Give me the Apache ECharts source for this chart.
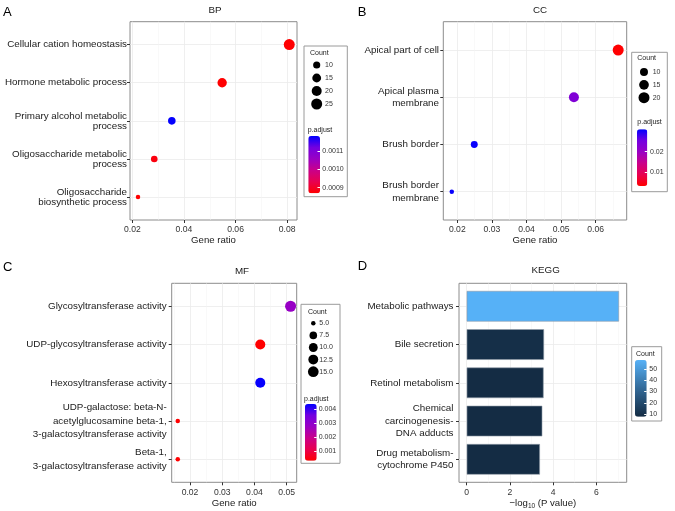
<!DOCTYPE html>
<html>
<head>
<meta charset="utf-8">
<script src="https://cdn.jsdelivr.net/npm/echarts@6/dist/echarts.min.js"></script>
<style>
  html, body { margin: 0; padding: 0; background: #fff; }
  #chart { width: 675px; height: 511px; }
</style>
</head>
<body>
<div id="chart"></div>
<script>
// enrichment figure: BP / CC / MF dot plots + KEGG bar plot
const FONT = '"Liberation Sans", Arial, Helvetica, sans-serif';
const RB = ['#FF0000', '#E8004F', '#CA0089', '#9A00C3', '#7300E0', '#0000FF']; // red -> blue (Lab-ish)
const BLUES = ['#132B43', '#336A98', '#56B1F7'];
const BORDER = '#8C8C8C';
const GRIDLINE = '#EBEBEB';

// ---- BP ----
const bpTerms = ['Cellular cation homeostasis', 'Hormone metabolic process', 'Primary alcohol metabolic\nprocess',
  'Oligosaccharide metabolic\nprocess', 'Oligosaccharide\nbiosynthetic process'];
const bpRatio = [0.0808, 0.0548, 0.0353, 0.0285, 0.0222];
const bpCount = [25, 17, 11, 9, 7];
const bpPadj = [0.00087, 0.00087, 0.00118, 0.00088, 0.00087];
const bpRatioTicks = [0.02, 0.04, 0.06, 0.08];
const bpSizeBreaks = [10, 15, 20, 25];
const bpPadjTicks = [0.0009, 0.0010, 0.0011];

// ---- CC ----
const ccTerms = ['Apical part of cell', 'Apical plasma\nmembrane', 'Brush border', 'Brush border\nmembrane'];
const ccRatio = [0.0665, 0.0537, 0.0249, 0.0184];
const ccCount = [20, 16, 8, 6];
const ccPadj = [0.0034, 0.0235, 0.0305, 0.0305];
const ccRatioTicks = [0.02, 0.03, 0.04, 0.05, 0.06];
const ccSizeBreaks = [10, 15, 20];
const ccPadjTicks = [0.01, 0.02];

// ---- MF ----
const mfTerms = ['Glycosyltransferase activity', 'UDP-glycosyltransferase activity', 'Hexosyltransferase activity',
  'UDP-galactose: beta-N-\nacetylglucosamine beta-1,\n3-galactosyltransferase activity',
  'Beta-1,\n3-galactosyltransferase activity'];
const mfRatio = [0.0512, 0.0418, 0.0418, 0.0162, 0.0162];
const mfCount = [16, 13, 13, 5, 5];
const mfPadj = [0.0028, 0.00032, 0.0043, 0.00032, 0.00032];
const mfRatioTicks = [0.02, 0.03, 0.04, 0.05];
const mfSizeBreaks = [5, 7.5, 10, 12.5, 15];
const mfPadjTicks = [0.001, 0.002, 0.003, 0.004];

// ---- KEGG ----
const keggTerms = ['Metabolic pathways', 'Bile secretion', 'Retinol metabolism',
  'Chemical\ncarcinogenesis-\nDNA adducts', 'Drug metabolism-\ncytochrome P450'];
const keggLogP = [7.05, 3.58, 3.56, 3.50, 3.39];
const keggCount = [58, 9, 8, 8, 8];
const keggTicks = [0, 2, 4, 6];
const keggCountTicks = [10, 20, 30, 40, 50];

const grid = [], xAxis = [], yAxis = [], series = [], visualMap = [], graphic = [];

function addGrid(g, xa, ya) {
  g.outerBoundsMode = 'none';
  grid.push(g);
  const i = grid.length - 1;
  xa.gridIndex = i; ya.gridIndex = i;
  xAxis.push(xa); yAxis.push(ya);
  return i;
}

function txt(text, x, y, size, extra) {
  graphic.push({
    type: 'text', x: x, y: y, z: 10, silent: true,
    style: Object.assign({ text: text, fill: '#1a1a1a', font: size + 'px ' + FONT,
      textAlign: 'left', textVerticalAlign: 'middle' }, extra || {})
  });
}

function box(r) {
  graphic.push({ type: 'rect', z: 1, silent: true, shape: { x: r[0], y: r[1], width: r[2], height: r[3] },
    style: { fill: 'none', stroke: '#9A9A9A', lineWidth: 1 } });
}

function colorBar(bar, min, max, ticks, digits, margin, colors, si, dim) {
  visualMap.push({
    type: 'continuous', seriesIndex: si, dimension: dim, min: min, max: max,
    inRange: { color: colors }, left: bar[0], top: bar[1], itemWidth: bar[2], itemHeight: bar[3],
    calculable: false, padding: 0, text: null, hoverLink: false
  });
  addGrid({ left: bar[0], top: bar[1], width: bar[2], height: bar[3] },
    { type: 'value', min: 0, max: 1, show: false },
    { type: 'value', min: min, max: max, position: 'right', z: 6,
      axisLine: { show: false, onZero: false }, splitLine: { show: false },
      axisTick: { show: true, inside: true, length: 2.5, customValues: ticks, lineStyle: { color: '#fff', width: 1 } },
      axisLabel: { customValues: ticks, margin: margin, fontSize: 7, color: '#333', fontFamily: FONT,
        formatter: v => v.toFixed(digits) } });
}

function dotPanel(p) {
  const cmin = Math.min(...p.count), cmax = Math.max(...p.count);
  const sz = c => 4.5 + 6.5 * Math.sqrt(Math.max(0, (c - cmin) / (cmax - cmin)));
  const idx = p.terms.map((t, i) => i);
  const gi = addGrid({ left: p.box[0], top: p.box[1], width: p.box[2], height: p.box[3],
      show: true, borderColor: BORDER, borderWidth: 1, backgroundColor: 'transparent' },
    { type: 'value', min: p.xMin, max: p.xMax, minInterval: p.xStep, maxInterval: p.xStep,
      axisLine: { show: false, onZero: false },
      axisTick: { show: true, length: 3, customValues: p.xTicks, lineStyle: { color: '#333' } },
      axisLabel: { customValues: p.xTicks, margin: p.xMargin, fontSize: 8.6, color: '#333', fontFamily: FONT },
      splitLine: { show: true, lineStyle: { color: GRIDLINE, width: 0.8 } },
      minorTick: { show: false, splitNumber: 2 },
      minorSplitLine: { show: true, lineStyle: { color: '#F3F3F3', width: 0.5 } },
      name: 'Gene ratio', nameLocation: 'middle', nameGap: p.nameGap,
      nameTextStyle: { fontSize: 9.6, color: '#1a1a1a', fontFamily: FONT } },
    { type: 'value', inverse: true, min: -0.6, max: p.terms.length - 0.4, minInterval: 1, maxInterval: 1,
      axisLine: { show: false, onZero: false },
      axisTick: { show: true, length: 3, customValues: idx, lineStyle: { color: '#333' } },
      axisLabel: { customValues: idx, margin: p.yMargin, fontSize: 9.8, lineHeight: p.lineHeight,
        color: '#1a1a1a', fontFamily: FONT, align: 'right',
        formatter: v => p.terms[Math.round(v)] || '' },
      splitLine: { show: true, lineStyle: { color: GRIDLINE, width: 0.8 } } });
  series.push({ type: 'scatter', xAxisIndex: gi, yAxisIndex: gi, silent: true, z: 3,
    data: p.ratio.map((r, i) => [r, i, p.count[i], p.padj[i]]),
    symbolSize: v => sz(v[2]), itemStyle: { opacity: 1 }, emphasis: { disabled: true } });
  const si = series.length - 1;

  txt(p.letter, p.letterPos[0], p.letterPos[1], 13, { fill: '#000' });
  txt(p.title, p.titlePos[0], p.titlePos[1], 9.8, { textAlign: 'center' });

  // legend
  const L = p.legend;
  box(L.box);
  txt('Count', L.countTitle[0], L.countTitle[1], 7, { fill: '#222' });
  const lg = addGrid({ left: L.sizeX - 4, top: L.sizeTop, width: 8, height: L.sizeBottom - L.sizeTop },
    { type: 'value', min: -1, max: 1, show: false },
    { type: 'category', data: p.sizeBreaks.map(b => b.toFixed(L.sizeDigits)), inverse: true, boundaryGap: false,
      position: 'right', axisLine: { show: false, onZero: false }, axisTick: { show: false }, splitLine: { show: false },
      axisLabel: { interval: 0, margin: L.sizeMargin, fontSize: 7, color: '#333', fontFamily: FONT } });
  series.push({ type: 'scatter', xAxisIndex: lg, yAxisIndex: lg, silent: true,
    data: p.sizeBreaks.map((b, i) => [0, i, b]), symbolSize: v => sz(v[2]),
    itemStyle: { color: '#000', opacity: 1 }, emphasis: { disabled: true } });
  txt('p.adjust', L.padjTitle[0], L.padjTitle[1], 7, { fill: '#222' });
  colorBar(L.bar, L.pMin, L.pMax, p.padjTicks, L.padjDigits, L.barMargin, RB, si, 3);
}

dotPanel({
  terms: bpTerms, ratio: bpRatio, count: bpCount, padj: bpPadj, xTicks: bpRatioTicks,
  sizeBreaks: bpSizeBreaks, padjTicks: bpPadjTicks,
  box: [130, 21.7, 167, 198.3], xMin: 0.0191, xMax: 0.0838, xStep: 0.02,
  xMargin: 4.7, nameGap: 15, yMargin: 3, lineHeight: 10,
  letter: 'A', letterPos: [3, 12], title: 'BP', titlePos: [215, 10],
  legend: { box: [304, 46, 43.3, 150.7], countTitle: [310, 52.7], sizeX: 316.7, sizeTop: 65, sizeBottom: 104,
    sizeMargin: 4.3, sizeDigits: 0, padjTitle: [307.7, 130], bar: [308.3, 136, 11.7, 57.3],
    pMin: 0.000869, pMax: 0.001182, padjDigits: 4, barMargin: 2.3 }
});

dotPanel({
  terms: ccTerms, ratio: ccRatio, count: ccCount, padj: ccPadj, xTicks: ccRatioTicks,
  sizeBreaks: ccSizeBreaks, padjTicks: ccPadjTicks,
  box: [443.3, 21.7, 183.4, 198.3], xMin: 0.01595, xMax: 0.06896, xStep: 0.01,
  xMargin: 5, nameGap: 14, yMargin: 4.3, lineHeight: 12.5,
  letter: 'B', letterPos: [357.7, 12.8], title: 'CC', titlePos: [540, 10],
  legend: { box: [631.7, 52.3, 35.6, 139.4], countTitle: [637.3, 57.7], sizeX: 644, sizeTop: 72, sizeBottom: 97.7,
    sizeMargin: 4.7, sizeDigits: 0, padjTitle: [637.3, 122.3], bar: [637, 129.3, 10.3, 56.7],
    pMin: 0.00335, pMax: 0.0309, padjDigits: 2, barMargin: 2.7 }
});

dotPanel({
  terms: mfTerms, ratio: mfRatio, count: mfCount, padj: mfPadj, xTicks: mfRatioTicks,
  sizeBreaks: mfSizeBreaks, padjTicks: mfPadjTicks,
  box: [171.7, 283.3, 125, 199], xMin: 0.01432, xMax: 0.0531, xStep: 0.01,
  xMargin: 5.4, nameGap: 15.9, yMargin: 5, lineHeight: 13.5,
  letter: 'C', letterPos: [3, 267.5], title: 'MF', titlePos: [242, 271.7],
  legend: { box: [301, 304.3, 39, 159], countTitle: [308, 311.7], sizeX: 313.3, sizeTop: 323.3, sizeBottom: 371.7,
    sizeMargin: 2, sizeDigits: 1, padjTitle: [304, 399], bar: [305, 404, 11.7, 56.7],
    pMin: 0.00031, pMax: 0.00435, padjDigits: 3, barMargin: 2 }
});

// ---- KEGG bar panel ----
const kBox = [459, 283.3, 167.7, 199];
const kUnit = kBox[3] / 5.2;
addGrid({ left: kBox[0], top: kBox[1], width: kBox[2], height: kBox[3],
    show: true, borderColor: BORDER, borderWidth: 1, backgroundColor: 'transparent' },
  { type: 'value', min: -0.356, max: 7.407, minInterval: 2, maxInterval: 2,
    axisLine: { show: false, onZero: false },
    axisTick: { show: true, length: 3, customValues: keggTicks, lineStyle: { color: '#333' } },
    axisLabel: { customValues: keggTicks, margin: 5.5, fontSize: 8.6, color: '#333', fontFamily: FONT },
    splitLine: { show: true, lineStyle: { color: GRIDLINE, width: 0.8 } },
    minorTick: { show: false, splitNumber: 2 },
    minorSplitLine: { show: true, lineStyle: { color: '#F3F3F3', width: 0.5 } },
    name: '−log{sub|10} (P value)', nameLocation: 'middle', nameGap: 15,
    nameTextStyle: { fontSize: 9.6, color: '#1a1a1a', fontFamily: FONT,
      rich: { sub: { fontSize: 6.5, color: '#1a1a1a', fontFamily: FONT, padding: [5, 0, 0, 0] } } } },
  { type: 'value', inverse: true, min: -0.6, max: 4.6, minInterval: 1, maxInterval: 1,
    axisLine: { show: false, onZero: false }, axisTick: { show: false, customValues: [0, 1, 2, 3, 4] },
    axisLabel: { show: false }, splitLine: { show: true, lineStyle: { color: GRIDLINE, width: 0.8 } } });
const kg = addGrid({ left: kBox[0], top: kBox[1] + 0.1 * kUnit, width: kBox[2], height: 5 * kUnit },
  { type: 'value', min: -0.356, max: 7.407, show: false },
  { type: 'category', data: keggTerms, inverse: true,
    axisLine: { show: false, onZero: false }, splitLine: { show: false },
    axisTick: { show: true, length: 3, alignWithLabel: true, lineStyle: { color: '#333' } },
    axisLabel: { interval: 0, margin: 5.5, fontSize: 9.8, lineHeight: 12.5, color: '#1a1a1a', fontFamily: FONT } });
series.push({ type: 'bar', xAxisIndex: kg, yAxisIndex: kg, silent: true, barWidth: '80%',
  data: keggLogP.map((v, i) => [v, i, keggCount[i]]), encode: { x: 0, y: 1 },
  itemStyle: { borderColor: '#8E9AA6', borderWidth: 0.6 }, emphasis: { disabled: true } });
txt('D', 357.7, 266.7, 13, { fill: '#000' });
txt('KEGG', 545.7, 270, 9.8, { textAlign: 'center' });
box([631.7, 346.7, 30, 74.3]);
txt('Count', 636, 354, 7, { fill: '#222' });
colorBar([635, 360, 11.7, 56.7], 7.6, 58, keggCountTicks, 0, 2.6, BLUES, series.length - 1, 2);

const chart = echarts.init(document.getElementById('chart'), null, { renderer: 'canvas' });
chart.setOption({
  animation: false,
  backgroundColor: '#fff',
  grid: grid, xAxis: xAxis, yAxis: yAxis, series: series, visualMap: visualMap, graphic: graphic
});
</script>
</body>
</html>
